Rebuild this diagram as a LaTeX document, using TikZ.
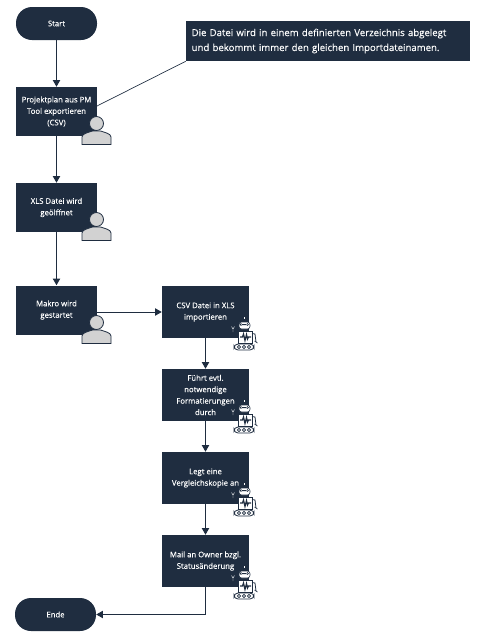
\documentclass[tikz,border=0pt]{standalone}
\usepackage{fontspec}
\setmainfont{Open Sans}
\newfontfamily\labelfont[FakeBold=0.12]{Open Sans}
\usetikzlibrary{arrows.meta}
\definecolor{navy}{HTML}{1F2D40}
\definecolor{usergray}{HTML}{D2D2D2}
\tikzset{
  boxtext/.style={font=\labelfont\fontsize{5.8pt}{8.6pt}\selectfont, text=white, align=center},
  stepbox/.style={boxtext, fill=navy, minimum width=60.75pt, minimum height=36.75pt, inner sep=0pt},
  robotbox/.style={stepbox, minimum width=65.25pt, minimum height=39pt},
  endbox/.style={boxtext, fill=navy, rounded corners=12pt, minimum width=60.75pt, minimum height=24.75pt, inner sep=0pt},
  notebox/.style={fill=navy, text=white, font=\labelfont\fontsize{7.2pt}{11.2pt}\selectfont, align=left, minimum width=213pt, minimum height=30pt, inner sep=0pt},
  flow/.style={navy, line width=0.75pt, -{Triangle[length=5pt,width=5.5pt]}},
  pics/user/.style={code={
    \draw[navy, line width=0.6pt, fill=usergray] (-14.5,14.5) -- (-14.5,7) .. controls (-14.5,3.5) and (-8,2.5) .. (-4,1) -- (4,1) .. controls (8,2.5) and (14.5,3.5) .. (14.5,7) -- (14.5,14.5) -- cycle;
    \draw[navy, line width=0.6pt, fill=usergray] (0,-6.5) circle (7);
  }},
  pics/robot/.style={code={
    % antenna and head
    \fill[white] (-1.5,-15) rectangle (-0.5,-13.5);
    \draw[navy, line width=0.4pt, fill=white, rounded corners=2pt] (-6,-10) rectangle (5,-3);
    \fill[navy] (-4,-7.5) circle (1.3) (2.5,-7.5) circle (1.3) (-4,-8) rectangle (2.5,-7);
    % body
    \draw[navy, line width=0.4pt, fill=white] (-7,-1) rectangle (7,11);
    \draw[navy, line width=0.9pt] (-5,5) -- (-2.5,5) -- (-1.5,2) -- (0,8.5) -- (1.5,2.5) -- (2.5,7) -- (3.5,5) -- (6,5);
    % arms
    \draw[navy, line width=0.6pt] (7,1.5) -- (10,2) -- (11,10);
    \draw[navy, line width=0.5pt] (9.5,9) -- (12.5,11);
    \draw[white, line width=0.3pt] (-13.5,-5.5) -- (-12,-3) -- (-10.5,-5.5) (-12,-3) -- (-12,0);
    % tracks
    \draw[navy, line width=0.6pt, fill=white, rounded corners=3pt] (-11,12) rectangle (9,18);
    \foreach \i in {-6,-1,4}
      \draw[navy, line width=0.6pt] (\i,15) circle (1.6);
  }}
}
\begin{document}
\begin{tikzpicture}[x=0.75pt, y=-0.75pt]
  \useasboundingbox (0,0) rectangle (481,640);

  % left column
  \node[endbox] (start) at (56.5,23.5) {Start};
  \node[stepbox] (export) at (56.5,111.5) {Projektplan aus PM\\Tool exportieren\\(CSV)};
  \node[stepbox] (open) at (56.5,207.5) {XLS Datei wird\\geölffnet};
  \node[stepbox] (macro) at (56.5,310) {Makro wird\\gestartet};
  \node[endbox] (finish) at (55.5,614.5) {Ende};

  % right column
  \node[robotbox] (import) at (205.5,312) {CSV Datei in XLS\\importieren};
  \node[robotbox] (format) at (205.5,395) {Führt evtl.\\notwendige\\Formatierungen\\durch};
  \node[robotbox] (copy) at (205.5,478) {Legt eine\\Vergleichskopie an};
  \node[robotbox] (mail) at (205.5,561) {Mail an Owner bzgl.\\Statusänderung};

  % note
  \node[notebox, text width=204.5pt] (note) at (328,41) {Die Datei wird in einem definierten Verzeichnis abgelegt\\und bekommt immer den gleichen Importdateinamen.};

  \coordinate (noteend) at (97,106);

  \draw[flow] (start) -- (export);
  \draw[flow] (export) -- (open);
  \draw[flow] (open) -- (macro);
  \draw[flow] (macro.east |- import.west) -- (import.west);
  \draw[flow] (import) -- (format);
  \draw[flow] (format) -- (copy);
  \draw[flow] (copy) -- (mail);
  \draw[flow] (mail.south) |- (finish.east);
  \draw[navy, line width=0.5pt] (note.south west) -- (noteend);

  % icons
  \pic at (96.5,130) {user};
  \pic at (96.5,226) {user};
  \pic at (96.5,329) {user};
  \pic at (245,332) {robot};
  \pic at (245,415) {robot};
  \pic at (245,498) {robot};
  \pic at (245,581) {robot};
\end{tikzpicture}
\end{document}
